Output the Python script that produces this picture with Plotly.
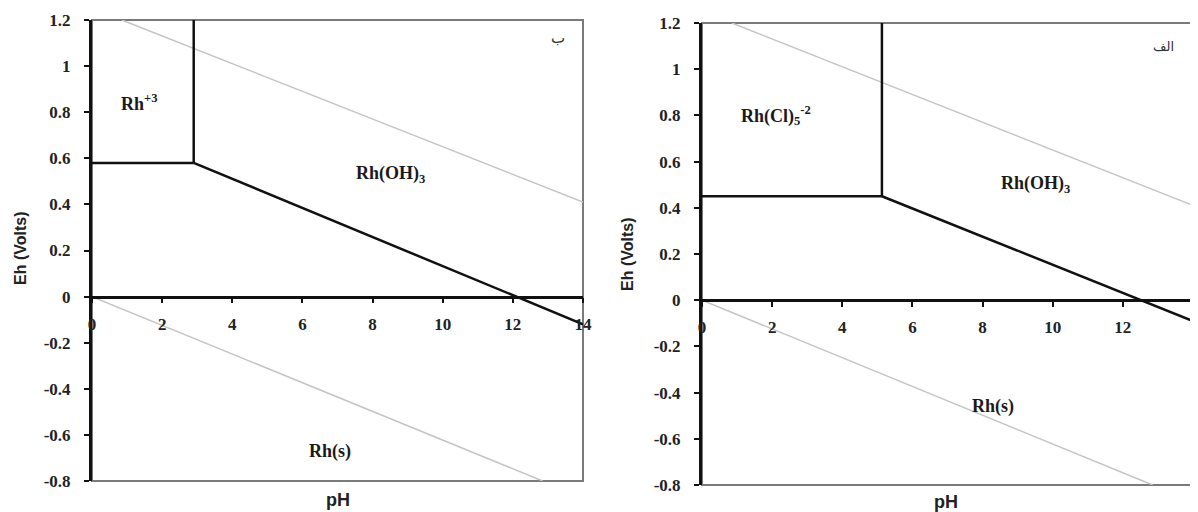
import plotly.graph_objects as go

# ---------------- data ----------------
# Left panel (ب): Rh-H2O system
left_boundary_h_x = [0, 2.9]
left_boundary_h_y = [0.58, 0.58]
left_boundary_v_x = [2.9, 2.9]
left_boundary_v_y = [0.58, 1.2]
left_boundary_d_x = [2.9, 14]
left_boundary_d_y = [0.58, -0.12]

# Right panel (الف): Rh-Cl-H2O system
right_boundary_h_x = [0, 5.13]
right_boundary_h_y = [0.45, 0.45]
right_boundary_v_x = [5.13, 5.13]
right_boundary_v_y = [0.45, 1.2]
right_boundary_d_x = [5.13, 14]
right_boundary_d_y = [0.45, -0.09]

# Water stability lines (same on both panels)
water_upper_x = [0.85, 14]
water_upper_y = [1.2, 0.41]
water_lower_x = [0, 12.85]
water_lower_y = [0, -0.8]

x_ticks = [0, 2, 4, 6, 8, 10, 12, 14]
y_ticks = [-0.8, -0.6, -0.4, -0.2, 0, 0.2, 0.4, 0.6, 0.8, 1, 1.2]
y_tick_text = ["-0.8", "-0.6", "-0.4", "-0.2", "0", "0.2", "0.4", "0.6", "0.8", "1", "1.2"]

left_labels = [("Rh<sup>+3</sup>", 1.35, 0.84), ("Rh(OH)<sub>3</sub>", 8.5, 0.53), ("Rh(s)", 6.8, -0.67)]
right_labels = [("Rh(Cl)<sub>5</sub><sup>-2</sup>", 2.1, 0.80), ("Rh(OH)<sub>3</sub>", 9.5, 0.50), ("Rh(s)", 8.3, -0.46)]
panel_tags = ["ب", "الف"]

# ---------------- figure ----------------
OFF = 8  # page body margin
W, H = 1198 - OFF, 512 - OFF
BLACK = "#111111"
GRAY = "#c4c4c4"
SERIF = "Liberation Serif"
SANS = "Liberation Sans"

def px(x):
    return (x - OFF) / W

def py(y):
    return 1 - (y - OFF) / H

fig = go.Figure()

def add_panel(xa, ya, hx, hy, vx, vy, dx, dy):
    for xs, ys in [(water_upper_x, water_upper_y), (water_lower_x, water_lower_y)]:
        fig.add_trace(go.Scatter(x=xs, y=ys, mode="lines", line=dict(color=GRAY, width=1.5),
                                 xaxis=xa, yaxis=ya, showlegend=False, hoverinfo="skip"))
    for xs, ys in [(hx, hy), (vx, vy), (dx, dy)]:
        fig.add_trace(go.Scatter(x=xs, y=ys, mode="lines", line=dict(color=BLACK, width=2.5),
                                 xaxis=xa, yaxis=ya, showlegend=False, hoverinfo="skip"))

add_panel("x", "y", left_boundary_h_x, left_boundary_h_y, left_boundary_v_x, left_boundary_v_y,
          left_boundary_d_x, left_boundary_d_y)
add_panel("x2", "y2", right_boundary_h_x, right_boundary_h_y, right_boundary_v_x, right_boundary_v_y,
          right_boundary_d_x, right_boundary_d_y)

# pixel geometry (screen pixels)
L = dict(x0=92, x1=583, y0=20, y1=481)
R = dict(x0=702, x1=1193, y0=23, y1=485)

def dom_x(p):
    return [px(p["x0"]), px(p["x1"])]

def dom_y(p):
    return [py(p["y1"]), py(p["y0"])]

def zero_pos(p):
    d = dom_y(p)
    return d[0] + (0 - (-0.8)) / 2.0 * (d[1] - d[0])

tickfont = dict(family=SERIF, size=17, color="#222222")

def xaxis_cfg(p):
    return dict(domain=dom_x(p), range=[0, 14], anchor="free", position=zero_pos(p),
                tickvals=x_ticks, ticktext=[f"<b>{v}</b>" for v in x_ticks],
                ticks="outside", ticklen=5, tickwidth=2, tickcolor=BLACK,
                showline=True, linecolor=BLACK, linewidth=2.5, showgrid=False, zeroline=False,
                tickfont=tickfont, ticklabelstandoff=6, fixedrange=True, automargin=False)

def yaxis_cfg(p, xref):
    return dict(domain=dom_y(p), range=[-0.8, 1.2], anchor=xref,
                tickvals=y_ticks, ticktext=[f"<b>{t}</b>" for t in y_tick_text],
                ticks="outside", ticklen=5, tickwidth=2, tickcolor=BLACK,
                showline=True, linecolor=BLACK, linewidth=3, showgrid=False, zeroline=False,
                tickfont=tickfont, ticklabelstandoff=10, fixedrange=True, automargin=False)

fig.update_layout(
    width=W, height=H, margin=dict(l=0, r=0, t=0, b=0, autoexpand=False),
    paper_bgcolor="white", plot_bgcolor="white",
    xaxis=xaxis_cfg(L), yaxis=yaxis_cfg(L, "x"),
    xaxis2=xaxis_cfg(R), yaxis2=yaxis_cfg(R, "x2"),
)

# plot frames (gray top/right/bottom)
for p in (L, R):
    dx, dy = dom_x(p), dom_y(p)
    fig.add_shape(type="rect", xref="paper", yref="paper", x0=dx[0], x1=dx[1], y0=dy[0], y1=dy[1],
                  line=dict(color="#7a7a7a", width=2), layer="below")

labfont = dict(family=SERIF, size=18, color="#1a1a1a")
for text, x, y in left_labels:
    fig.add_annotation(x=x, y=y, xref="x", yref="y", text=f"<b>{text}</b>", showarrow=False, font=labfont)
for text, x, y in right_labels:
    fig.add_annotation(x=x, y=y, xref="x2", yref="y2", text=f"<b>{text}</b>", showarrow=False, font=labfont)

fig.add_annotation(x=13.3, y=1.12, xref="x", yref="y", text=panel_tags[0], showarrow=False,
                   font=dict(family="DejaVu Sans", size=15, color="#333333"))
fig.add_annotation(x=13.15, y=1.1, xref="x2", yref="y2", text=panel_tags[1], showarrow=False,
                   font=dict(family="DejaVu Sans", size=13, color="#333333"))

titlefont = dict(family=SANS, size=16, color="#222222")
for xp, yp in [(20, 249), (627, 255)]:
    fig.add_annotation(x=px(xp), y=py(yp), xref="paper", yref="paper", text="<b>Eh (Volts)</b>",
                       textangle=-90, showarrow=False, font=titlefont, xanchor="center", yanchor="middle")
for xp, yp in [(338, 500), (946, 502)]:
    fig.add_annotation(x=px(xp), y=py(yp), xref="paper", yref="paper", text="<b>pH</b>",
                       showarrow=False, font=dict(family=SANS, size=18, color="#222222"),
                       xanchor="center", yanchor="middle")

fig.write_html("out.html")
